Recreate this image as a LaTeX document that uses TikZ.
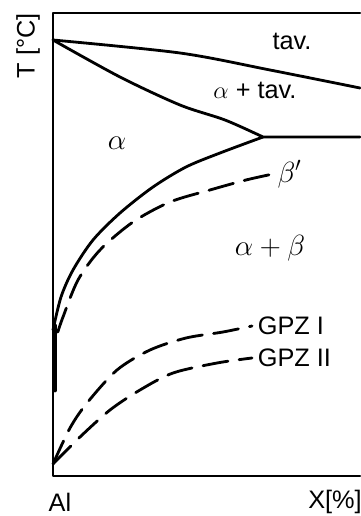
\documentclass[tikz,border=0pt]{standalone}
\usepackage{fontspec}
\setmainfont{Liberation Sans}
\begin{document}
\begin{tikzpicture}[line cap=round,line join=round,
  axis/.style={line width=1.5pt},
  phase/.style={line width=2pt},
  meta/.style={line width=2pt,dash pattern=on 18pt off 8pt},
  lbl/.style={font=\fontsize{18}{20}\selectfont,inner sep=0pt},
  greek/.style={font=\fontsize{22}{24}\selectfont,inner sep=0pt}]
  \useasboundingbox (-1.325,-1) rectangle (7.675,11.9);
  \def\W{7.675} \def\H{11.575}
  \coordinate (O) at (0,0); \coordinate (Top) at (0,\H);
  \coordinate (M) at (0,10.9); \coordinate (E) at (5.25,8.475);
  \coordinate (S) at (0,3.65); \coordinate (Z) at (0,0.3);
  % labels
  \node[lbl,rotate=90] (tlab) at (-0.625,10.75) {T [°C]};
  \node[lbl] (al) at (0.175,-0.65) {Al};
  \node[lbl,anchor=west] (xlab) at (6.375,-0.65) {X[\%]};
  \node[lbl] (tav) at (5.975,10.875) {tav.};
  \node[lbl] (atav) at (5.05,9.65) {$\alpha$ + tav.};
  \node[greek] (alpha) at (1.6,8.325) {$\alpha$};
  \node[greek] (ab) at (5.425,5.7) {$\alpha+\beta$};
  \node[greek,anchor=west,inner xsep=3pt] (bp) at (5.5,7.55) {$\beta'$};
  \node[lbl,anchor=west,inner xsep=4pt] (g1) at (4.975,3.75) {GPZ I};
  \node[lbl,anchor=west,inner xsep=4pt] (g2) at (4.975,2.95) {GPZ II};
  % axes
  \draw[axis] (\W,\H) -- (Top) -- (O) -- (\W,0);
  \draw[line width=3.5pt] (0.05,2.15) -- (0.05,3.75);
  % phase boundaries
  \draw[phase] plot[smooth] coordinates {(M) (3.175,10.575) (5.425,10.15) (\W,9.7)};
  \draw[phase] plot[smooth] coordinates {(M) (1.675,9.975) (3.175,9.275) (4.3,8.9) (E)} -- (\W,8.475);
  \draw[phase] plot[smooth] coordinates {(E) (4.175,8.075) (3.325,7.725) (2.5,7.225) (1.675,6.575)
    (1.0,5.9) (0.5,5.15) (0.2,4.475) (S)};
  % metastable
  \draw[meta] plot[smooth] coordinates {(0.12,3.6) (0.25,3.975) (0.625,4.9) (1.175,5.65) (2.0,6.35)
    (2.925,6.85) (3.925,7.15) (4.825,7.4) (bp.west)};
  \draw[meta] plot[smooth] coordinates {(Z) (0.425,1.2) (0.85,1.825) (1.6,2.65) (2.425,3.15)
    (3.325,3.45) (4.25,3.6) (g1.west)};
  \draw[meta] plot[smooth] coordinates {(Z) (0.675,0.975) (1.425,1.65) (2.175,2.15) (3.0,2.575)
    (4.1,2.825) (g2.west)};
\end{tikzpicture}
\end{document}
